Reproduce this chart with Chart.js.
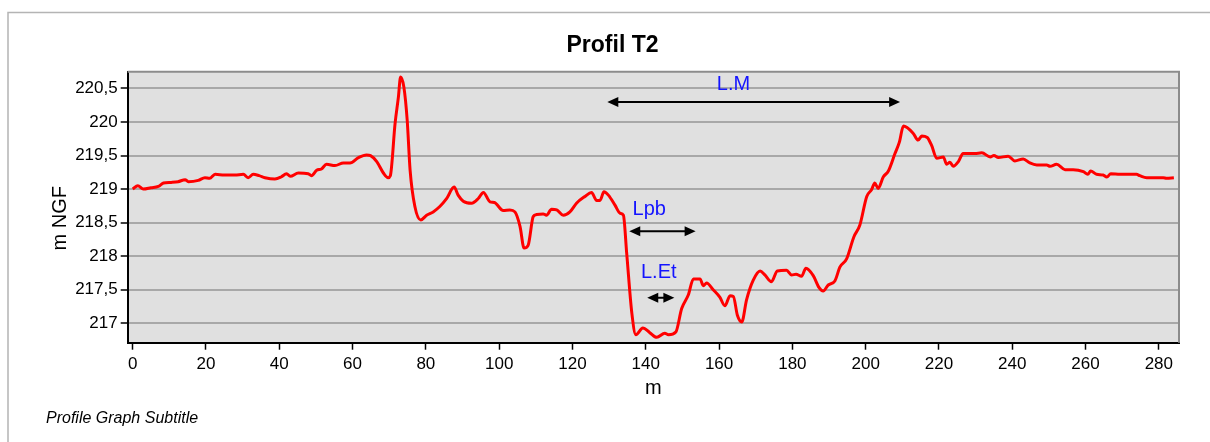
<!DOCTYPE html>
<html>
<head>
<meta charset="utf-8">
<script src="https://cdn.jsdelivr.net/npm/chart.js@4"></script>
<style>
  body { margin: 0; background: #fff; }
  #wrap { width: 1210px; height: 442px; }
</style>
</head>
<body>
<div id="wrap"><canvas id="profileChart" width="1210" height="442"></canvas></div>
<script>
// Profile T2 - distance (m) / elevation (m NGF)
const distance = [
  0, 1.4, 2.9, 5, 7, 8.4, 10.5, 12.4, 14.3, 15.2, 17.9, 19.7, 21, 22.5, 25, 27.9,
  30.2, 31.5, 32.9, 34.5, 36.1, 38.8, 40.5, 42, 43, 45.2, 47.9, 48.8, 50.2, 51.5,
  52.9, 55.2, 57.5, 59.3, 61.6, 63.8, 64.9, 66.6, 68.4, 69.7, 70.3, 71.6, 72.5,
  73.1, 74, 74.9, 75.7, 77, 78.6, 80.2, 82, 83.8, 85.7, 87.7, 88.8, 90.2, 92.5,
  94.3, 95.7, 97.5, 98.7, 101.1, 102.9, 104.3, 105.7, 106.8, 107.9, 109.3, 110.2,
  112, 112.9, 114.3, 115.7, 117.5, 119.3, 121.1, 123.4, 125.2, 126.6, 127.5, 128.6,
  129.8, 131.6, 133, 133.9, 134.8, 136.2, 137.3, 139.2, 141.1, 143, 145.2, 146.2,
  148.2, 149.8, 151.6, 153, 154.8, 155.7, 156.6, 158.4, 160.2, 161.6, 163, 163.9,
  165, 166.2, 167.5, 169.3, 171.2, 172.5, 174.3, 175.9, 178.4, 179.8, 181, 182.5,
  183.7, 185.7, 187.3, 188.4, 189.8, 191.6, 193, 194.8, 196.8, 198.4, 200.3, 201.6,
  202.5, 203.4, 204.8, 206.2, 208, 209.2, 210.3, 213, 214.3, 215.3, 216.8, 218,
  219.4, 221.2, 222.1, 223, 223.9, 225.3, 226.6, 229.8, 231.7, 234, 235, 236.2,
  238.9, 240.7, 243, 244.8, 246.7, 249.4, 250.3, 252.1, 254.4, 256.6, 259.4, 260.6,
  261.4, 263, 264.8, 265.8, 266.9, 269.4, 273.9, 274.8, 276.7, 281.2, 282.1, 284.1
];
const elevation = [
  219.00, 219.05, 219.00, 219.02, 219.04, 219.09, 219.10, 219.11, 219.14, 219.11, 219.13, 219.17, 219.16, 219.22, 219.21, 219.21,
  219.22, 219.17, 219.22, 219.20, 219.17, 219.15, 219.18, 219.23, 219.19, 219.24, 219.23, 219.20, 219.28, 219.30,
  219.37, 219.35, 219.39, 219.39, 219.47, 219.51, 219.50, 219.41, 219.24, 219.17, 219.20, 219.98, 220.37,
  220.67, 220.52, 220.03, 219.28, 218.74, 218.54, 218.61, 218.66, 218.74, 218.86, 219.03, 218.91, 218.82, 218.79,
  218.86, 218.95, 218.81, 218.80, 218.68, 218.69, 218.66, 218.44, 218.12, 218.16, 218.59, 218.62,
  218.63, 218.61, 218.70, 218.69, 218.61, 218.66, 218.79, 218.89, 218.95, 218.83, 218.83, 218.96,
  218.91, 218.76, 218.64, 218.61, 218.04, 217.15, 216.83, 216.93, 216.86, 216.79, 216.85, 216.83,
  216.87, 217.22, 217.42, 217.66, 217.66, 217.56, 217.60, 217.50, 217.39, 217.26, 217.41, 217.40,
  217.12, 217.02, 217.35, 217.64, 217.78, 217.72, 217.62, 217.78, 217.79, 217.72, 217.73, 217.70,
  217.82, 217.71, 217.53, 217.48, 217.57, 217.63, 217.84, 217.96, 218.29, 218.46, 218.89, 218.99,
  219.09, 219.01, 219.18, 219.27, 219.53, 219.70, 219.94, 219.83, 219.73, 219.79, 219.77, 219.65,
  219.46, 219.48, 219.37, 219.40, 219.34, 219.41, 219.53, 219.53, 219.54, 219.48, 219.50, 219.47,
  219.49, 219.42, 219.45, 219.39, 219.36, 219.36, 219.34, 219.37, 219.29, 219.29, 219.26, 219.22,
  219.27, 219.22, 219.21, 219.18, 219.23, 219.22, 219.22, 219.20, 219.17, 219.17, 219.16, 219.17
];

// width markers (in axis units)
const markerLabels = ['L.M', 'Lpb', 'L.Et'];
const markerFrom = [129.5, 135.5, 140.4];
const markerTo = [209.4, 153.6, 147.8];
const markerLevel = [220.3, 218.37, 217.38];
const labelX = [159.4, 136.4, 138.7];
const labelY = [220.48, 218.61, 217.67];

const xRange = [-1.36, 285.5];
const yRange = [216.71, 220.75];

const fontFam = '"Liberation Sans", Arial, sans-serif';

const points = distance.map((d, i) => ({ x: d, y: elevation[i] }));

// grey plot background + outer frame + plot border
const framePlugin = {
  id: 'frame',
  beforeDraw(chart) {
    const { ctx, chartArea: a } = chart;
    ctx.save();
    ctx.strokeStyle = '#b4b4b4';
    ctx.lineWidth = 1.5;
    ctx.strokeRect(8, 12.5, 1400, 600);
    ctx.fillStyle = '#e0e0e0';
    ctx.fillRect(a.left, a.top, a.right - a.left, a.bottom - a.top);
    ctx.restore();
  },
  afterDraw(chart) {
    const { ctx, chartArea: a } = chart;
    ctx.save();
    ctx.strokeStyle = '#8c8c8c';
    ctx.lineWidth = 2;
    ctx.beginPath();
    ctx.moveTo(a.left, a.top);
    ctx.lineTo(a.right, a.top);
    ctx.lineTo(a.right, a.bottom);
    ctx.stroke();
    ctx.restore();
  }
};

function arrowHead(ctx, x, y, dir) {
  ctx.beginPath();
  ctx.moveTo(x, y);
  ctx.lineTo(x - dir * 11, y - 5);
  ctx.lineTo(x - dir * 11, y + 5);
  ctx.closePath();
  ctx.fill();
}

// double arrows with their labels
const markerPlugin = {
  id: 'markers',
  afterDatasetsDraw(chart) {
    const { ctx, scales: { x, y } } = chart;
    ctx.save();
    markerLabels.forEach((label, i) => {
      const x1 = x.getPixelForValue(markerFrom[i]);
      const x2 = x.getPixelForValue(markerTo[i]);
      const yy = y.getPixelForValue(markerLevel[i]);
      ctx.strokeStyle = '#000';
      ctx.fillStyle = '#000';
      ctx.lineWidth = 2;
      ctx.beginPath();
      ctx.moveTo(x1 + 6, yy);
      ctx.lineTo(x2 - 6, yy);
      ctx.stroke();
      arrowHead(ctx, x1, yy, -1);
      arrowHead(ctx, x2, yy, 1);

      ctx.fillStyle = '#1414ff';
      ctx.font = '20px ' + fontFam;
      ctx.textAlign = 'left';
      ctx.textBaseline = 'alphabetic';
      ctx.fillText(label, x.getPixelForValue(labelX[i]), y.getPixelForValue(labelY[i]));
    });
    ctx.restore();
  }
};

const ctx = document.getElementById('profileChart').getContext('2d');
new Chart(ctx, {
  type: 'line',
  data: {
    datasets: [{
      data: points,
      borderColor: '#ff0000',
      borderWidth: 3,
      pointRadius: 0,
      fill: false,
      cubicInterpolationMode: 'monotone'
    }]
  },
  options: {
    responsive: false,
    animation: false,
    layout: { padding: { left: 46, right: 31, top: 0, bottom: 0 } },
    plugins: {
      legend: { display: false },
      tooltip: { enabled: false },
      title: {
        display: true,
        text: 'Profil T2',
        color: '#000',
        font: { family: fontFam, size: 23, weight: 'bold' },
        padding: { top: 31.7, bottom: 12.4 }
      },
      subtitle: {
        display: true,
        position: 'bottom',
        align: 'start',
        text: 'Profile Graph Subtitle',
        color: '#000',
        font: { family: fontFam, size: 16, style: 'italic' },
        padding: { top: 11.7, bottom: 13.4 }
      }
    },
    scales: {
      x: {
        type: 'linear',
        min: xRange[0],
        max: xRange[1],
        afterFit: s => { s.height = 55; },
        ticks: {
          stepSize: 20,
          includeBounds: false,
          color: '#000',
          padding: 4,
          maxRotation: 0,
          font: { family: fontFam, size: 17 }
        },
        grid: { drawOnChartArea: false, tickColor: '#000', tickLength: 7, tickWidth: 1.5 },
        border: { color: '#000', width: 2 },
        title: { display: true, text: 'm', color: '#000', font: { family: fontFam, size: 20 }, padding: { top: 0, bottom: -2.5 } }
      },
      y: {
        min: yRange[0],
        max: yRange[1],
        afterFit: s => { s.width = 81.7; },
        ticks: {
          stepSize: 0.5,
          includeBounds: false,
          color: '#000',
          padding: 3,
          font: { family: fontFam, size: 17 },
          callback: v => String(v).replace('.', ',')
        },
        grid: { color: '#a8a8a8', lineWidth: 2, tickColor: '#000', tickLength: 7, tickWidth: 1.5 },
        border: { color: '#000', width: 2 },
        title: { display: true, text: 'm NGF    ', color: '#000', font: { family: fontFam, size: 20 }, padding: { top: 2, bottom: 0 } }
      }
    }
  },
  plugins: [framePlugin, markerPlugin]
});
</script>
</body>
</html>
